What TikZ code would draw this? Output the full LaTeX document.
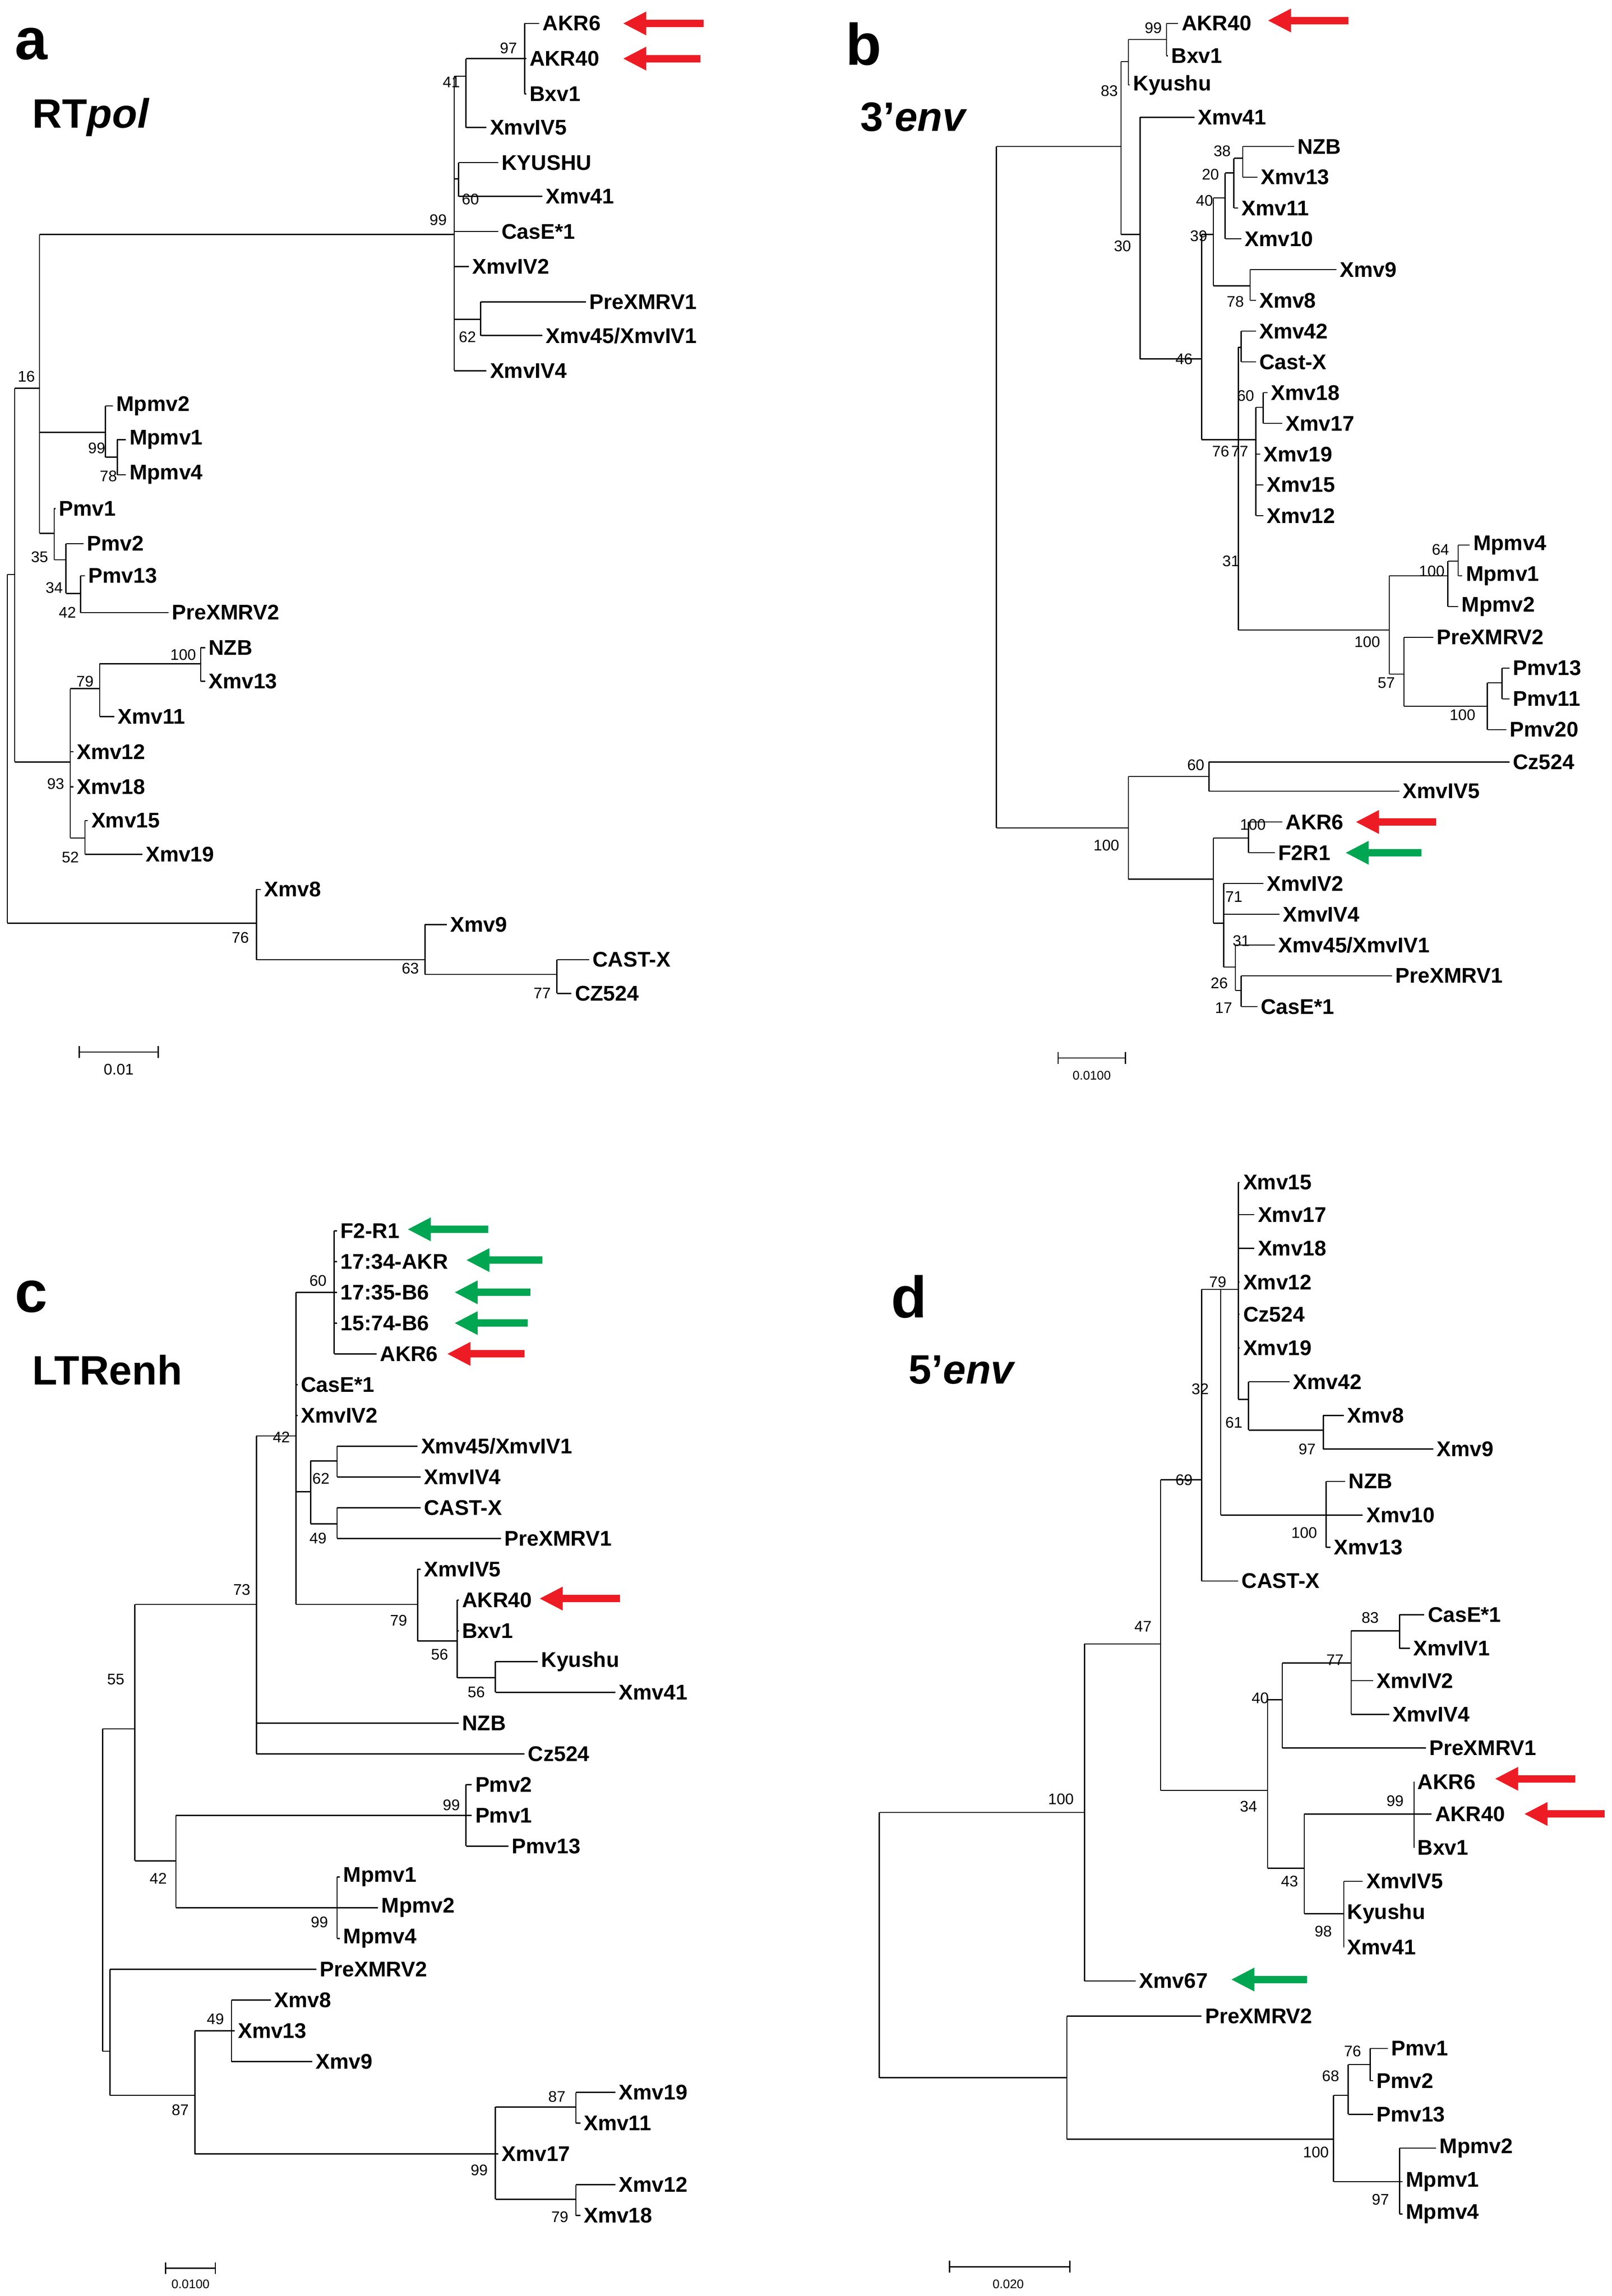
\documentclass[tikz,border=0pt]{standalone}
\usepackage{fontspec}
\setmainfont{Liberation Sans}
\usetikzlibrary{arrows.meta}
\tikzset{tl/.style={line width=0.8pt,black},
lab/.style={font=\fontsize{14.5}{15}\selectfont\bfseries,inner sep=2pt},
bsv/.style={font=\fontsize{10.5}{11}\selectfont,inner sep=0pt},
arr/.style={line width=5pt,-{Triangle[length=16pt,width=15pt]}},
ttl/.style={font=\fontsize{40}{40}\selectfont\bfseries,anchor=west,inner sep=0pt},
sub/.style={font=\fontsize{28}{28}\selectfont\bfseries,anchor=west,inner sep=0pt}}
\definecolor{ar}{RGB}{237,28,36}
\definecolor{ag}{RGB}{0,166,81}
\newcommand\Vl[3]{\draw[tl] (#1,#2) -- (#1,#3);}
\newcommand\Hl[3]{\draw[tl] (#1,#3) -- (#2,#3);}
\newcommand\Lf[4]{\draw[tl] (#1,#3) -- (#2,#3) node[lab,anchor=west]{#4};}
\newcommand\Bs[3]{\node[bsv] at (#1,#2) {#3};}
\newcommand\Ar[4]{\draw[arr,#4] (#2,#3) -- (#1,#3);}
\begin{document}
\begin{tikzpicture}[x=1pt,y=-1pt]
\useasboundingbox[fill=white] (0,0) rectangle (1100,1567);
% ---------- a ----------
\node[ttl] at (10,30) {a};
\node[sub] at (22,80) {RT\textit{pol}};
\Vl{5}{392}{630}
\Hl{5}{10}{392}\Vl{10}{265}{520}
\Hl{10}{27}{265}\Vl{27}{160}{364}
\Hl{27}{310}{160}\Vl{310}{52}{253}
\Hl{310}{318}{52}\Vl{318}{40}{87}
\Hl{318}{358}{40}\Vl{358}{16}{64}
\Lf{358}{368}{16}{AKR6}\Lf{358}{359}{40}{AKR40}\Lf{358}{359}{64}{Bxv1}
\Lf{318}{332}{87}{XmvIV5}
\Hl{310}{313}{122}\Vl{313}{111}{134}\Lf{313}{340}{111}{KYUSHU}\Lf{313}{370}{134}{Xmv41}
\Lf{310}{340}{158}{CasE*1}\Lf{310}{320}{182}{XmvIV2}
\Hl{310}{328}{218}\Vl{328}{206}{229}\Lf{328}{400}{206}{PreXMRV1}\Lf{328}{370}{229}{Xmv45/XmvIV1}
\Lf{310}{332}{253}{XmvIV4}
\Hl{27}{72}{295}\Vl{72}{277}{312}\Lf{72}{77}{277}{Mpmv2}\Hl{72}{80}{312}\Vl{80}{300}{324}\Lf{80}{86}{300}{Mpmv1}\Lf{80}{86}{324}{Mpmv4}
\Hl{27}{37}{364}\Vl{37}{347}{382}\Lf{37}{38}{347}{Pmv1}\Hl{37}{45}{382}\Vl{45}{371}{405}\Lf{45}{57}{371}{Pmv2}\Hl{45}{55}{405}\Vl{55}{393}{418}\Lf{55}{58}{393}{Pmv13}\Lf{55}{115}{418}{PreXMRV2}
\Hl{10}{48}{520}\Vl{48}{470}{572}\Hl{48}{68}{470}\Vl{68}{453}{489}\Hl{68}{137}{453}\Vl{137}{442}{465}\Lf{137}{140}{442}{NZB}\Lf{137}{140}{465}{Xmv13}\Lf{68}{78}{489}{Xmv11}\Lf{48}{50}{513}{Xmv12}\Lf{48}{50}{537}{Xmv18}\Hl{48}{58}{572}\Vl{58}{560}{583}\Lf{58}{60}{560}{Xmv15}\Lf{58}{97}{583}{Xmv19}
\Hl{5}{175}{630}\Vl{175}{607}{655}\Lf{175}{178}{607}{Xmv8}\Hl{175}{290}{655}\Vl{290}{631}{665}\Lf{290}{305}{631}{Xmv9}\Hl{290}{380}{665}\Vl{380}{655}{678}\Lf{380}{402}{655}{CAST-X}\Lf{380}{390}{678}{CZ524}
\Bs{347}{33}{97}\Bs{308}{56}{41}\Bs{321}{136}{60}\Bs{299}{150}{99}\Bs{319}{230}{62}\Bs{18}{257}{16}\Bs{66}{306}{99}\Bs{74}{325}{78}\Bs{27}{380}{35}\Bs{37}{401}{34}\Bs{46}{418}{42}\Bs{125}{447}{100}\Bs{58}{465}{79}\Bs{38}{535}{93}\Bs{48}{585}{52}\Bs{164}{640}{76}\Bs{280}{661}{63}\Bs{370}{678}{77}
\Ar{425}{480}{16}{ar}\Ar{425}{478}{40}{ar}
\draw[tl] (54,718) -- (108,718); \draw[tl] (54,714)--(54,722); \draw[tl] (108,714)--(108,722);
\Bs{81}{730}{0.01}
% ---------- b ----------
\node[ttl] at (577,30) {b};
\node[sub] at (587,80) {3’\textit{env}};
\Vl{680}{100}{565}
\Hl{680}{765}{100}\Vl{765}{42}{160}
\Hl{765}{770}{42}\Vl{770}{27}{58}\Hl{770}{796}{27}\Vl{796}{16}{38}\Lf{796}{804}{16}{AKR40}\Lf{796}{797}{38}{Bxv1}\Lf{770}{771}{58}{Kyushu}
\Hl{765}{778}{160}\Vl{778}{80}{245}\Lf{778}{815}{80}{Xmv41}
\Hl{778}{820}{245}\Vl{820}{160}{300}
\Hl{820}{828}{160}\Vl{828}{135}{195}
\Hl{828}{836}{135}\Vl{836}{118}{163}\Hl{836}{842}{118}\Vl{842}{108}{142}\Hl{842}{848}{108}\Vl{848}{100}{121}
\Lf{848}{883}{100}{NZB}\Lf{848}{858}{121}{Xmv13}\Lf{842}{845}{142}{Xmv11}\Lf{836}{847}{163}{Xmv10}
\Hl{828}{853}{195}\Vl{853}{184}{205}\Lf{853}{912}{184}{Xmv9}\Lf{853}{857}{205}{Xmv8}
\Hl{820}{845}{300}\Vl{845}{237}{430}
\Hl{845}{847}{237}\Vl{847}{226}{247}\Lf{847}{857}{226}{Xmv42}\Lf{847}{857}{247}{Cast-X}
\Hl{845}{857}{300}\Vl{857}{278}{352}\Hl{857}{862}{278}\Vl{862}{268}{289}\Lf{862}{865}{268}{Xmv18}\Lf{862}{875}{289}{Xmv17}
\Lf{857}{860}{310}{Xmv19}\Lf{857}{862}{331}{Xmv15}\Lf{857}{862}{352}{Xmv12}
\Hl{845}{948}{430}\Vl{948}{393}{460}
\Hl{948}{988}{393}\Vl{988}{383}{414}\Hl{988}{995}{383}\Vl{995}{372}{393}\Lf{995}{1003}{372}{Mpmv4}\Lf{995}{998}{393}{Mpmv1}\Lf{988}{995}{414}{Mpmv2}
\Hl{948}{958}{460}\Vl{958}{435}{482}\Lf{958}{978}{435}{PreXMRV2}\Hl{958}{1015}{482}\Vl{1015}{466}{498}\Hl{1015}{1025}{466}\Vl{1025}{456}{477}\Lf{1025}{1030}{456}{Pmv13}\Lf{1025}{1030}{477}{Pmv11}\Lf{1015}{1028}{498}{Pmv20}
\Hl{680}{770}{565}\Vl{770}{530}{600}
\Hl{770}{825}{530}\Vl{825}{520}{540}\Lf{825}{1030}{520}{Cz524}\Lf{825}{955}{540}{XmvIV5}
\Hl{770}{828}{600}\Vl{828}{572}{630}
\Hl{828}{852}{572}\Vl{852}{561}{582}\Lf{852}{875}{561}{AKR6}\Lf{852}{870}{582}{F2R1}
\Hl{828}{835}{630}\Vl{835}{603}{660}\Lf{835}{862}{603}{XmvIV2}\Lf{835}{873}{624}{XmvIV4}
\Hl{835}{843}{660}\Vl{843}{645}{676}\Lf{843}{870}{645}{Xmv45/XmvIV1}\Hl{843}{847}{676}\Vl{847}{666}{687}\Lf{847}{950}{666}{PreXMRV1}\Lf{847}{858}{687}{CasE*1}
\Bs{787}{19}{99}\Bs{757}{62}{83}\Bs{766}{168}{30}\Bs{834}{103}{38}\Bs{826}{119}{20}\Bs{822}{137}{40}\Bs{818}{161}{39}\Bs{843}{206}{78}\Bs{808}{245}{46}\Bs{850}{270}{60}\Bs{833}{308}{76}\Bs{846}{308}{77}\Bs{840}{383}{31}\Bs{983}{375}{64}\Bs{977}{390}{100}\Bs{933}{438}{100}\Bs{946}{466}{57}\Bs{998}{488}{100}\Bs{816}{522}{60}\Bs{755}{577}{100}\Bs{855}{563}{100}\Bs{842}{612}{71}\Bs{847}{642}{31}\Bs{832}{671}{26}\Bs{835}{688}{17}
\Ar{865}{920}{14}{ar}\Ar{925}{980}{561}{ar}\Ar{918}{970}{582}{ag}
\draw[tl] (722,722) -- (768,722); \draw[tl] (722,718)--(722,726); \draw[tl] (768,718)--(768,726);
\node[bsv,font=\fontsize{8.5}{9}\selectfont] at (745,734) {0.0100};
% ---------- c ----------
\node[ttl] at (10,885) {c};
\node[sub] at (22,935) {LTRenh};
\Vl{70}{1180}{1400}
\Hl{70}{75}{1400}\Vl{75}{1344}{1430}\Lf{75}{216}{1344}{PreXMRV2}
\Hl{75}{133}{1430}\Vl{133}{1386}{1470}
\Hl{133}{158}{1386}\Vl{158}{1365}{1407}\Lf{158}{185}{1365}{Xmv8}\Lf{158}{160}{1386}{Xmv13}\Lf{158}{213}{1407}{Xmv9}
\Hl{133}{338}{1470}\Vl{338}{1438}{1501}\Hl{338}{393}{1438}\Vl{393}{1428}{1449}\Lf{393}{420}{1428}{Xmv19}\Lf{393}{396}{1449}{Xmv11}\Lf{338}{340}{1470}{Xmv17}
\Hl{338}{393}{1501}\Vl{393}{1491}{1512}\Lf{393}{420}{1491}{Xmv12}\Lf{393}{396}{1512}{Xmv18}
\Hl{70}{92}{1180}\Vl{92}{1095}{1270}
\Hl{92}{120}{1270}\Vl{120}{1239}{1302}
\Hl{120}{318}{1239}\Vl{318}{1218}{1260}\Lf{318}{322}{1218}{Pmv2}\Lf{318}{322}{1239}{Pmv1}\Lf{318}{347}{1260}{Pmv13}
\Hl{120}{230}{1302}\Vl{230}{1281}{1323}\Lf{230}{232}{1281}{Mpmv1}\Lf{230}{258}{1302}{Mpmv2}\Lf{230}{232}{1323}{Mpmv4}
\Hl{92}{175}{1095}\Vl{175}{980}{1197}\Lf{175}{313}{1176}{NZB}\Lf{175}{358}{1197}{Cz524}
\Hl{175}{202}{980}\Vl{202}{882}{1095}
\Hl{202}{228}{882}\Vl{228}{840}{924}\Lf{228}{230}{840}{F2-R1}\Lf{228}{230}{861}{17:34-AKR}\Lf{228}{230}{882}{17:35-B6}\Lf{228}{230}{903}{15:74-B6}\Lf{228}{257}{924}{AKR6}
\Lf{202}{203}{945}{CasE*1}\Lf{202}{203}{966}{XmvIV2}
\Hl{202}{212}{1018}\Vl{212}{997}{1040}
\Hl{212}{230}{997}\Vl{230}{987}{1008}\Lf{230}{285}{987}{Xmv45/XmvIV1}\Lf{230}{287}{1008}{XmvIV4}
\Hl{212}{230}{1040}\Vl{230}{1029}{1050}\Lf{230}{287}{1029}{CAST-X}\Lf{230}{342}{1050}{PreXMRV1}
\Hl{202}{285}{1095}\Vl{285}{1071}{1120}\Lf{285}{287}{1071}{XmvIV5}
\Hl{285}{312}{1120}\Vl{312}{1092}{1145}\Lf{312}{313}{1092}{AKR40}\Lf{312}{313}{1113}{Bxv1}
\Hl{312}{338}{1145}\Vl{338}{1134}{1155}\Lf{338}{367}{1134}{Kyushu}\Lf{338}{420}{1155}{Xmv41}
\Bs{217}{874}{60}\Bs{192}{981}{42}\Bs{219}{1009}{62}\Bs{217}{1050}{49}\Bs{272}{1106}{79}\Bs{300}{1129}{56}\Bs{325}{1155}{56}\Bs{165}{1085}{73}\Bs{79}{1146}{55}\Bs{108}{1282}{42}\Bs{308}{1232}{99}\Bs{218}{1312}{99}\Bs{147}{1378}{49}\Bs{123}{1440}{87}\Bs{380}{1431}{87}\Bs{327}{1481}{99}\Bs{382}{1513}{79}
\Ar{278}{333}{839}{ag}\Ar{318}{370}{860}{ag}\Ar{310}{362}{882}{ag}\Ar{310}{360}{903}{ag}\Ar{305}{358}{924}{ar}\Ar{368}{423}{1091}{ar}
\draw[tl] (113,1548) -- (147,1548); \draw[tl] (113,1544)--(113,1552); \draw[tl] (147,1544)--(147,1552);
\node[bsv,font=\fontsize{8.5}{9}\selectfont] at (130,1559) {0.0100};
% ---------- d ----------
\node[ttl] at (608,885) {d};
\node[sub] at (620,935) {5’\textit{env}};
\Vl{600}{1237}{1418}
\Hl{600}{740}{1237}\Vl{740}{1122}{1352}\Lf{740}{775}{1352}{Xmv67}
\Hl{740}{792}{1122}\Vl{792}{1010}{1222}
\Hl{792}{820}{1010}\Vl{820}{880}{1079}\Lf{820}{845}{1079}{CAST-X}
\Hl{820}{833}{880}\Vl{833}{880}{1034}
\Hl{833}{845}{880}\Vl{845}{807}{955}
\Lf{845}{846}{807}{Xmv15}\Lf{845}{856}{829}{Xmv17}\Lf{845}{856}{852}{Xmv18}\Lf{845}{846}{875}{Xmv12}\Lf{845}{846}{897}{Cz524}\Lf{845}{846}{920}{Xmv19}
\Hl{845}{852}{955}\Vl{852}{943}{976}\Lf{852}{880}{943}{Xmv42}\Hl{852}{903}{976}\Vl{903}{966}{989}\Lf{903}{917}{966}{Xmv8}\Lf{903}{978}{989}{Xmv9}
\Hl{833}{905}{1034}\Vl{905}{1011}{1056}\Lf{905}{918}{1011}{NZB}\Lf{905}{930}{1034}{Xmv10}\Lf{905}{908}{1056}{Xmv13}
\Hl{792}{865}{1222}\Vl{865}{1160}{1275}
\Hl{865}{875}{1160}\Vl{875}{1135}{1193}\Lf{875}{973}{1193}{PreXMRV1}
\Hl{875}{922}{1135}\Vl{922}{1113}{1170}\Hl{922}{955}{1113}\Vl{955}{1102}{1125}\Lf{955}{972}{1102}{CasE*1}\Lf{955}{962}{1125}{XmvIV1}\Lf{922}{937}{1147}{XmvIV2}\Lf{922}{948}{1170}{XmvIV4}
\Hl{865}{890}{1275}\Vl{890}{1238}{1306}
\Hl{890}{965}{1238}\Vl{965}{1216}{1261}\Lf{965}{965}{1216}{AKR6}\Lf{965}{977}{1238}{AKR40}\Lf{965}{965}{1261}{Bxv1}
\Hl{890}{917}{1306}\Vl{917}{1284}{1329}\Lf{917}{930}{1284}{XmvIV5}\Lf{917}{917}{1306}{Kyushu}\Lf{917}{917}{1329}{Xmv41}
\Hl{600}{728}{1418}\Vl{728}{1376}{1460}\Lf{728}{820}{1376}{PreXMRV2}
\Hl{728}{910}{1460}\Vl{910}{1430}{1489}
\Hl{910}{920}{1430}\Vl{920}{1409}{1443}\Hl{920}{935}{1409}\Vl{935}{1398}{1420}\Lf{935}{947}{1398}{Pmv1}\Lf{935}{937}{1420}{Pmv2}\Lf{920}{937}{1443}{Pmv13}
\Hl{910}{955}{1489}\Vl{955}{1466}{1511}\Lf{955}{980}{1466}{Mpmv2}\Lf{955}{957}{1489}{Mpmv1}\Lf{955}{957}{1511}{Mpmv4}
\Bs{831}{875}{79}\Bs{819}{948}{32}\Bs{842}{971}{61}\Bs{892}{989}{97}\Bs{808}{1010}{69}\Bs{890}{1046}{100}\Bs{780}{1110}{47}\Bs{935}{1104}{83}\Bs{911}{1133}{77}\Bs{860}{1159}{40}\Bs{852}{1233}{34}\Bs{952}{1229}{99}\Bs{880}{1284}{43}\Bs{903}{1318}{98}\Bs{724}{1228}{100}\Bs{923}{1400}{76}\Bs{908}{1417}{68}\Bs{898}{1469}{100}\Bs{942}{1501}{97}
\Ar{1020}{1075}{1214}{ar}\Ar{1040}{1095}{1238}{ar}\Ar{840}{892}{1351}{ag}
\draw[tl] (648,1547) -- (730,1547); \draw[tl] (648,1543)--(648,1551); \draw[tl] (730,1543)--(730,1551);
\node[bsv,font=\fontsize{8.5}{9}\selectfont] at (688,1559) {0.020};
\end{tikzpicture}
\end{document}
